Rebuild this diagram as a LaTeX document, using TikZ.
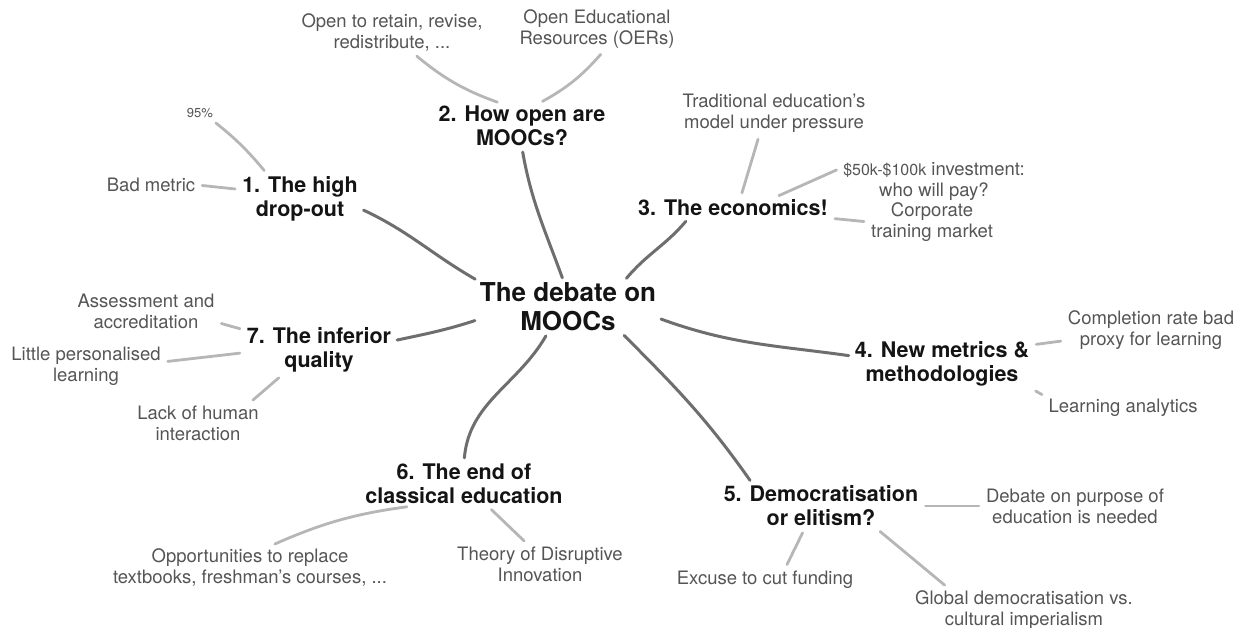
\documentclass[tikz,border=0pt]{standalone}
\usepackage{fontspec}
\setmainfont{TeX Gyre Heros}
\usepackage{tikz}
\usetikzlibrary{positioning}
\definecolor{ink}{RGB}{20, 20, 20}
\definecolor{leafink}{RGB}{85, 85, 85}
\definecolor{trunkgrey}{RGB}{110, 110, 110}
\definecolor{twiggrey}{RGB}{182, 182, 182}
\tikzstyle{hub} = [text=ink, align=center, inner sep=2pt, font=\bfseries\fontsize{26}{29}\selectfont]
\tikzstyle{topic} = [text=ink, align=center, inner sep=2pt, font=\bfseries\fontsize{21.5}{24}\selectfont]
\tikzstyle{leaf} = [text=leafink, align=center, inner sep=2pt, font=\fontsize{18.5}{21}\selectfont]
\tikzstyle{trunk} = [draw=trunkgrey, line width=3pt, line cap=round, shorten <=3pt, shorten >=4pt]
\tikzstyle{twig} = [draw=twiggrey, line width=2.8pt, line cap=round, shorten <=5pt, shorten >=5pt]

\begin{document}
\begin{tikzpicture}[on grid, x=1pt, y=1pt]
\useasboundingbox (0,0) rectangle (1248,628);

% centre =============================
\node[hub] (hub) at (568,321) {The debate on\\MOOCs};

% topics
\node[topic, above left=108pt and 268pt of hub] (drop) {1. The high\\drop-out};
\node[topic, above left=181pt and 46pt of hub] (open) {2. How open are\\MOOCs?};
\node[topic, above right=99pt and 165pt of hub] (econ) {3. The economics!};
\node[topic, below right=57pt and 374pt of hub] (metr) {4. New metrics \&\\methodologies};
\node[topic, below right=199pt and 253pt of hub] (demo) {5. Democratisation\\or elitism?};
\node[topic, below left=177pt and 104pt of hub] (clas) {6. The end of\\classical education};
\node[topic, below left=43pt and 249pt of hub] (qual) {7. The inferior\\quality};

% leaves
\node[leaf, font=\fontsize{13}{15}\selectfont, above left=86pt and 100pt of drop] (pct) {95\%};
\node[leaf, above left=14pt and 149pt of drop] (badm) {Bad metric};

\node[leaf, above left=94pt and 130pt of open] (reuse) {Open to retain, revise,\\redistribute, ...};
\node[leaf, above right=97pt and 75pt of open] (oer) {Open Educational\\Resources (OERs)};

\node[leaf, above right=95pt and 41pt of econ] (trad) {Traditional education’s\\model under pressure};
\node[leaf, above right=27pt and 201pt of econ] (invest) {{\fontsize{16}{21}\selectfont\$50k-\$100k} investment:\\who will pay?};
\node[leaf, below right=14pt and 199pt of econ] (corp) {Corporate\\training market};

\node[leaf, above right=34pt and 209pt of metr] (proxy) {Completion rate bad\\proxy for learning};
\node[leaf, below right=44pt and 181pt of metr] (anal) {Learning analytics};

\node[leaf, right=254pt of demo] (purp) {Debate on purpose of\\education is needed};
\node[leaf, below left=74pt and 56pt of demo] (fund) {Excuse to cut funding};
\node[leaf, below right=104pt and 203pt of demo] (glob) {Global democratisation vs.\\cultural imperialism};

\node[leaf, below left=83pt and 214pt of clas] (books) {Opportunities to replace\\textbooks, freshman’s courses, ...};
\node[leaf, below right=80pt and 76pt of clas] (disr) {Theory of Disruptive\\Innovation};

\node[leaf, above left=39pt and 173pt of qual] (accr) {Assessment and\\accreditation};
\node[leaf, below left=16pt and 233pt of qual] (pers) {Little personalised\\learning};
\node[leaf, below left=73pt and 121pt of qual] (human) {Lack of human\\interaction};

% edges
\draw[trunk] (hub.north west) to[out=150, in=-25] (drop.-9);
\draw[trunk] (hub.100) to[out=110, in=-80] (open.south);
\draw[trunk] (hub.25) to[out=50, in=-130] (econ.-167);
\draw[trunk] (hub.-7) to[out=-20, in=172] (metr.175);
\draw[trunk] (hub.-26) to[out=-45, in=125] (demo.162);
\draw[trunk] (hub.-128) to[out=-120, in=85] (clas.north);
\draw[trunk] (hub.188) to[out=198, in=12] (qual.7);

\draw[twig] (drop.143) to[bend right=6] (pct.-30);
\draw[twig] (drop.171) -- (badm.east);
\draw[twig] (open.132) to[bend left=10] (reuse.-45);
\draw[twig] (open.54) to[bend right=10] (oer.-72);
\draw[twig] (econ.54) -- (trad.-124);
\draw[twig] (econ.14) -- (invest.172);
\draw[twig] (econ.-6) -- (corp.west);
\draw[twig] (metr.12) -- (proxy.187);
\draw[twig] (metr.south east) -- (anal.north west);
\draw[twig] (demo.east) -- (purp.west);
\draw[twig] (demo.-126) -- (fund.29);
\draw[twig] (demo.-22) -- (glob.164);
\draw[twig] (clas.-157) to[bend right=8] (books.46);
\draw[twig] (clas.-43) -- (disr.122);
\draw[twig] (qual.165) -- (accr.-9);
\draw[twig] (qual.182) -- (pers.3);
\draw[twig] (qual.-146) -- (human.21);

\end{tikzpicture}
\end{document}
